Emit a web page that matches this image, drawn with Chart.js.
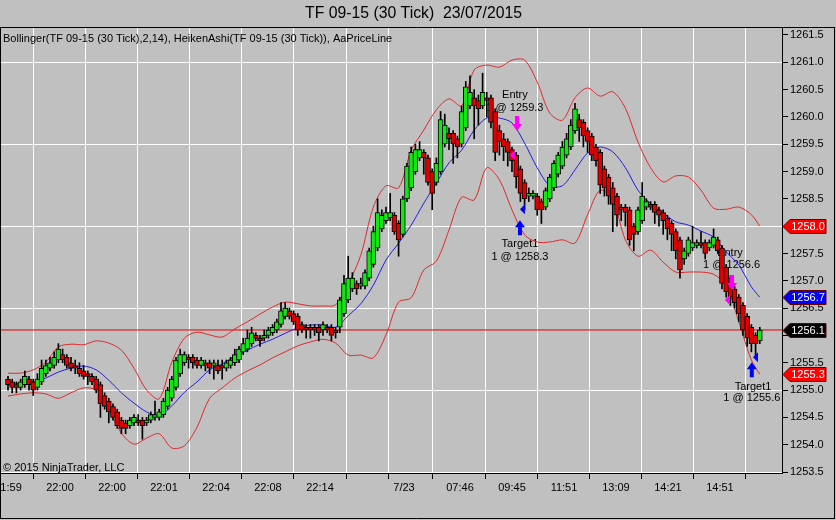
<!DOCTYPE html>
<html>
<head>
<meta charset="utf-8">
<script src="https://cdn.jsdelivr.net/npm/chart.js@4.4.1/dist/chart.umd.min.js"></script>
<style>
  html, body { margin: 0; padding: 0; background: #c0c0c0; }
  #wrap { width: 836px; height: 520px; }
</style>
</head>
<body>
<div id="wrap"><canvas id="chart" width="836" height="520"></canvas></div>
<script>
// Heiken Ashi bars (30 tick)
const haOpen = [
  1255.20,1255.15,1255.10,1255.05,1255.10,1255.20,1255.15,1255.05,1255.15,1255.30,
  1255.40,1255.45,1255.55,1255.65,1255.60,1255.50,1255.45,1255.40,1255.35,1255.30,
  1255.25,1255.20,1255.10,1254.90,1254.80,1254.70,1254.60,1254.45,1254.40,1254.35,
  1254.40,1254.45,1254.45,1254.40,1254.45,1254.50,1254.50,1254.55,1254.70,1254.85,
  1255.05,1255.30,1255.50,1255.60,1255.60,1255.55,1255.45,1255.50,1255.50,1255.45,
  1255.45,1255.45,1255.40,1255.45,1255.50,1255.55,1255.70,1255.75,1255.85,1256.00,
  1255.95,1255.95,1256.00,1256.05,1256.10,1256.20,1256.35,1256.45,1256.40,1256.35,
  1256.20,1256.15,1256.15,1256.15,1256.15,1256.10,1256.15,1256.15,1256.10,1256.15,
  1256.40,1256.65,1256.85,1256.95,1256.90,1256.90,1257.05,1257.30,1257.60,1257.95,
  1258.10,1258.15,1258.20,1258.05,1257.85,1258.50,1258.70,1259.00,1259.25,1259.35,
  1259.25,1259.00,1258.80,1259.00,1259.50,1259.70,1259.70,1259.60,1259.50,1259.80,
  1260.20,1260.35,1260.30,1260.20,1260.35,1260.35,1260.10,1259.75,1259.60,1259.55,
  1259.40,1259.30,1259.05,1258.80,1258.55,1258.55,1258.55,1258.45,1258.35,1258.50,
  1258.70,1258.95,1259.10,1259.30,1259.45,1259.75,1259.95,1259.90,1259.75,1259.65,
  1259.45,1259.35,1259.05,1258.90,1258.70,1258.55,1258.35,1258.35,1258.30,1258.00,
  1257.90,1258.10,1258.35,1258.40,1258.40,1258.30,1258.25,1258.15,1258.05,1257.90,
  1257.75,1257.40,1257.50,1257.60,1257.65,1257.70,1257.70,1257.60,1257.65,1257.75,
  1257.60,1257.25,1257.05,1256.85,1256.70,1256.55,1256.35,1256.15,1256.00,1255.90
];
const haClose = [
  1255.10,1255.05,1255.05,1255.15,1255.25,1255.10,1255.00,1255.20,1255.40,1255.45,
  1255.50,1255.60,1255.75,1255.55,1255.45,1255.40,1255.40,1255.30,1255.25,1255.25,
  1255.15,1255.00,1254.75,1254.70,1254.60,1254.50,1254.35,1254.30,1254.30,1254.45,
  1254.50,1254.40,1254.35,1254.45,1254.55,1254.55,1254.60,1254.80,1255.00,1255.20,
  1255.55,1255.65,1255.65,1255.55,1255.50,1255.45,1255.55,1255.45,1255.40,1255.50,
  1255.35,1255.40,1255.50,1255.55,1255.65,1255.75,1255.85,1255.95,1256.05,1255.95,
  1255.90,1256.00,1256.10,1256.15,1256.25,1256.45,1256.50,1256.35,1256.25,1256.10,
  1256.10,1256.10,1256.10,1256.10,1256.05,1256.20,1256.10,1256.00,1256.05,1256.65,
  1256.95,1257.05,1257.05,1256.85,1256.95,1257.15,1257.55,1257.90,1258.25,1258.20,
  1258.25,1258.25,1257.90,1257.75,1258.50,1259.10,1259.35,1259.40,1259.40,1259.25,
  1258.80,1258.60,1259.15,1259.95,1259.85,1259.60,1259.50,1259.45,1260.10,1260.55,
  1260.45,1260.20,1260.15,1260.45,1260.30,1259.90,1259.35,1259.55,1259.45,1259.35,
  1259.20,1258.90,1258.60,1258.50,1258.60,1258.60,1258.30,1258.30,1258.65,1258.90,
  1259.15,1259.30,1259.45,1259.60,1259.85,1260.15,1259.80,1259.65,1259.55,1259.30,
  1259.20,1258.75,1258.70,1258.55,1258.40,1258.20,1258.30,1258.25,1257.75,1257.85,
  1258.30,1258.55,1258.45,1258.35,1258.25,1258.20,1258.10,1257.95,1257.85,1257.55,
  1257.20,1257.55,1257.75,1257.70,1257.70,1257.65,1257.50,1257.70,1257.80,1257.55,
  1256.95,1256.80,1256.70,1256.60,1256.40,1256.10,1255.95,1255.85,1255.85,1256.10
];
const haHigh = [
  1255.25,1255.20,1255.15,1255.20,1255.35,1255.25,1255.20,1255.30,1255.55,1255.55,
  1255.60,1255.70,1255.85,1255.75,1255.65,1255.60,1255.55,1255.50,1255.45,1255.35,
  1255.30,1255.25,1255.15,1254.95,1254.85,1254.75,1254.65,1254.50,1254.45,1254.50,
  1254.55,1254.55,1254.50,1254.50,1254.60,1254.80,1254.65,1254.85,1255.05,1255.25,
  1255.60,1255.75,1255.70,1255.65,1255.65,1255.60,1255.60,1255.55,1255.55,1255.55,
  1255.55,1255.55,1255.55,1255.60,1255.75,1255.80,1255.95,1256.10,1256.15,1256.05,
  1256.00,1256.10,1256.15,1256.20,1256.30,1256.60,1256.60,1256.50,1256.45,1256.40,
  1256.25,1256.20,1256.20,1256.20,1256.20,1256.25,1256.20,1256.20,1256.15,1256.70,
  1257.10,1257.45,1257.15,1257.00,1257.05,1257.20,1257.60,1258.00,1258.50,1258.30,
  1258.35,1258.60,1258.25,1258.10,1258.55,1259.15,1259.45,1259.50,1259.55,1259.40,
  1259.30,1259.05,1259.25,1260.10,1260.05,1259.80,1259.75,1259.65,1260.20,1260.65,
  1260.75,1260.50,1260.40,1260.80,1260.45,1260.40,1260.15,1259.85,1259.70,1259.60,
  1259.45,1259.35,1259.10,1258.85,1258.70,1258.65,1258.60,1258.50,1258.70,1258.95,
  1259.20,1259.35,1259.55,1259.70,1259.95,1260.25,1260.05,1259.95,1259.80,1259.70,
  1259.50,1259.40,1259.10,1258.95,1258.80,1258.60,1258.40,1258.40,1258.35,1258.05,
  1258.35,1258.80,1258.50,1258.45,1258.45,1258.35,1258.30,1258.20,1258.10,1257.95,
  1257.80,1257.60,1257.80,1258.00,1257.75,1257.90,1257.75,1257.75,1257.95,1257.80,
  1257.65,1257.30,1257.10,1256.90,1256.75,1256.60,1256.40,1256.20,1256.05,1256.15
];
const haLow = [
  1255.00,1254.95,1254.95,1255.00,1255.05,1255.00,1254.90,1255.00,1255.10,1255.25,
  1255.35,1255.40,1255.50,1255.50,1255.40,1255.35,1255.30,1255.25,1255.20,1255.10,
  1255.10,1254.95,1254.50,1254.65,1254.40,1254.45,1254.30,1254.20,1254.20,1254.30,
  1254.35,1254.35,1254.10,1254.35,1254.40,1254.45,1254.45,1254.50,1254.65,1254.80,
  1255.00,1255.25,1255.45,1255.40,1255.40,1255.40,1255.40,1255.35,1255.30,1255.20,
  1255.30,1255.20,1255.35,1255.40,1255.45,1255.50,1255.65,1255.70,1255.80,1255.90,
  1255.80,1255.90,1255.95,1256.00,1256.05,1256.15,1256.30,1256.30,1256.20,1256.00,
  1256.05,1255.95,1255.95,1256.00,1255.90,1256.00,1256.05,1255.90,1255.95,1256.05,
  1256.35,1256.60,1256.80,1256.75,1256.85,1256.85,1257.00,1257.25,1257.55,1257.90,
  1258.05,1258.10,1257.85,1257.45,1257.80,1258.45,1258.65,1258.95,1259.20,1258.95,
  1258.75,1258.30,1258.75,1258.95,1259.45,1259.40,1259.15,1259.25,1259.45,1259.75,
  1260.15,1259.60,1259.85,1260.15,1260.00,1259.80,1259.20,1259.30,1259.20,1259.10,
  1259.00,1258.70,1258.45,1258.30,1258.45,1258.50,1258.20,1258.05,1258.30,1258.45,
  1258.65,1258.90,1259.05,1259.25,1259.40,1259.70,1259.55,1259.45,1259.35,1259.20,
  1259.10,1258.60,1258.55,1258.40,1257.90,1258.00,1258.10,1258.00,1257.65,1257.55,
  1257.85,1258.05,1258.30,1258.30,1258.05,1258.00,1257.85,1257.75,1257.55,1257.40,
  1257.05,1257.30,1257.45,1257.55,1257.60,1257.60,1257.40,1257.55,1257.60,1257.50,
  1256.85,1256.70,1256.55,1256.50,1256.25,1256.00,1255.80,1255.70,1255.60,1255.85
];

// Bollinger(2,14), read every third bar
const bandBars = [0,3,6,9,12,15,18,21,24,27,30,33,36,39,42,45,48,51,54,57,60,63,66,69,72,75,78,81,84,87,
  90,93,96,99,102,105,108,111,114,117,120,123,126,129,132,135,138,141,144,147,150,153,156,159,162,165,168,171,174,177,179];
const upperBand = [
  1255.31,1255.31,1255.37,1255.51,1255.79,1255.84,1255.83,1255.90,1255.86,1255.73,
  1255.40,1255.00,1254.84,1255.51,1255.95,1256.06,1256.01,1255.97,1256.12,1256.25,
  1256.39,1256.52,1256.61,1256.58,1256.54,1256.54,1256.56,1256.94,1257.47,1258.35,
  1258.74,1258.70,1259.39,1259.76,1260.13,1260.33,1260.20,1260.86,1260.95,1260.91,
  1261.04,1261.04,1260.64,1260.07,1259.94,1260.35,1260.53,1260.38,1260.46,1260.16,
  1259.54,1259.07,1258.81,1258.92,1258.90,1258.66,1258.33,1258.31,1258.35,1258.21,
  1258.00
];
const middleBand = [
  1255.09,1255.13,1255.15,1255.22,1255.33,1255.40,1255.44,1255.37,1255.18,1254.95,
  1254.76,1254.60,1254.53,1254.71,1254.96,1255.15,1255.37,1255.48,1255.62,1255.73,
  1255.84,1255.93,1256.04,1256.14,1256.19,1256.19,1256.15,1256.36,1256.58,1256.92,
  1257.38,1257.69,1258.02,1258.42,1258.79,1259.16,1259.39,1259.76,1259.98,1259.98,
  1259.89,1259.52,1259.07,1258.74,1258.74,1259.03,1259.34,1259.45,1259.36,1259.07,
  1258.66,1258.41,1258.24,1258.08,1258.02,1257.91,1257.80,1257.53,1257.29,1256.89,
  1256.70
];
const lowerBand = [
  1254.89,1254.93,1254.95,1254.93,1254.85,1254.95,1255.04,1255.00,1254.64,1254.21,
  1254.01,1254.12,1254.20,1253.94,1253.98,1254.32,1254.85,1255.04,1255.22,1255.35,
  1255.46,1255.59,1255.70,1255.81,1255.88,1255.93,1255.86,1255.64,1255.64,1255.59,
  1256.01,1256.61,1256.69,1257.20,1257.36,1257.93,1258.53,1258.48,1259.07,1258.85,
  1258.30,1257.84,1257.71,1257.71,1257.75,1257.69,1258.21,1258.66,1258.48,1257.75,
  1257.45,1257.56,1257.34,1257.16,1257.16,1257.16,1257.12,1256.92,1256.25,1255.55,
  1255.29
];

const lastPrice = 1256.1;
const tagValues = [1258.0, 1256.7, 1256.1, 1255.3];

// axes
const xTickBars = [0, 12.38, 24.76, 37.14, 49.52, 61.9, 74.29, 86.67, 94.29, 107.62, 120, 132.38, 144.76, 157.14, 169.52];
const xTickLabels = ["21:59","22:00","22:00","22:01","22:04","22:08","22:14","","7/23","07:46","09:45","11:51","13:09","14:21","14:51"];
const yTicks = [1253.5,1254.0,1254.5,1255.0,1255.5,1256.0,1256.5,1257.0,1257.5,1258.0,1258.5,1259.0,1259.5,1260.0,1260.5,1261.0,1261.5];

// trade markers and their texts
const noteText = ["Entry", "1 @ 1259.3", "Target1", "1 @ 1258.3", "Entry", "1 @ 1256.6", "Target1", "1 @ 1255.6"];
const noteBar = [120.7, 120.7, 121.9, 121.9, 171.9, 172.3, 177.4, 177.1];
const notePrice = [1260.40, 1260.16, 1257.67, 1257.44, 1257.51, 1257.29, 1255.06, 1254.85];
const arrowBar = [121.2, 121.9, 172.4, 177.1];
const arrowPrice = [1259.74, 1258.11, 1256.83, 1255.51];
const arrowSide = ["sell", "buy", "sell", "buy"];
const fillBar = [120.2, 122.6, 171.4, 178.1];
const fillPrice = [1259.30, 1258.31, 1256.65, 1255.60];

const FONT = '"Liberation Sans", Arial, sans-serif';
const GREEN = "#14e614";
const RED = "#e00000";

const bodies = haOpen.map((o, i) => ({ x: i, y: [o, haClose[i]] }));
const wicks = haLow.map((l, i) => ({ x: i, y: [l, haHigh[i]] }));
const band = (vals) => bandBars.map((b, k) => ({ x: b, y: vals[k] }));

function sameStep(v) {
  const k = (v - 1253.5) / 1.5;
  return Math.abs(k - Math.round(k)) < 1e-6;
}

const decor = {
  id: "decor",
  beforeDatasetsDraw(chart) {
    const { ctx, scales: { x, y } } = chart;
    ctx.save();
    ctx.font = "11px " + FONT;
    ctx.fillStyle = "#000";
    ctx.textAlign = "center";
    ctx.textBaseline = "middle";
    noteText.forEach((t, i) => {
      ctx.fillText(t, x.getPixelForValue(noteBar[i]), y.getPixelForValue(notePrice[i]));
    });
    ctx.restore();
  },
  afterDatasetsDraw(chart) {
    const { ctx, scales: { x, y } } = chart;
    ctx.save();
    arrowSide.forEach((side, i) => {
      const px = x.getPixelForValue(arrowBar[i]);
      const py = y.getPixelForValue(arrowPrice[i]);
      const d = side === "sell" ? -1 : 1; // sell arrow points down, tip at py
      ctx.fillStyle = side === "sell" ? "#ff00ff" : "#0000ff";
      ctx.beginPath();
      ctx.moveTo(px, py);
      ctx.lineTo(px - 5, py + d * 7);
      ctx.lineTo(px - 2, py + d * 7);
      ctx.lineTo(px - 2, py + d * 15);
      ctx.lineTo(px + 2, py + d * 15);
      ctx.lineTo(px + 2, py + d * 7);
      ctx.lineTo(px + 5, py + d * 7);
      ctx.closePath();
      ctx.fill();
      // execution mark
      const fx = x.getPixelForValue(fillBar[i]);
      const fy = y.getPixelForValue(fillPrice[i]);
      ctx.beginPath();
      ctx.moveTo(fx - 3, fy);
      ctx.lineTo(fx + 2, fy - 5);
      ctx.lineTo(fx + 2, fy + 5);
      ctx.closePath();
      ctx.fill();
    });
    ctx.restore();
  },
  afterDraw(chart) {
    const { ctx, scales: { y } } = chart;
    ctx.save();
    // frame
    ctx.strokeStyle = "#000";
    ctx.lineWidth = 1;
    ctx.beginPath();
    ctx.moveTo(0, 27.5); ctx.lineTo(835, 27.5);
    ctx.moveTo(0.5, 27); ctx.lineTo(0.5, 519);
    ctx.moveTo(0, 518.5); ctx.lineTo(835, 518.5);
    ctx.moveTo(834.5, 27); ctx.lineTo(834.5, 519);
    ctx.stroke();

    ctx.fillStyle = "#000";
    ctx.textBaseline = "middle";
    ctx.textAlign = "left";
    ctx.font = "16px " + FONT;
    ctx.fillText("TF 09-15 (30 Tick)  23/07/2015", 305, 14, 217);
    ctx.font = "11px " + FONT;
    ctx.fillText("Bollinger(TF 09-15 (30 Tick),2,14), HeikenAshi(TF 09-15 (30 Tick)), AaPriceLine", 3, 39, 392);
    ctx.fillText("\u00a9 2015 NinjaTrader, LLC", 3, 468, 124);

    // price tags on the axis
    const tagFill = ["#ff0000", "#0000ff", "#000000", "#ff0000"];
    tagValues.forEach((v, i) => {
      const py = Math.round(y.getPixelForValue(v)) + 0.5;
      ctx.beginPath();
      ctx.moveTo(783, py);
      ctx.lineTo(790, py - 7);
      ctx.lineTo(826, py - 7);
      ctx.lineTo(826, py + 7);
      ctx.lineTo(790, py + 7);
      ctx.closePath();
      ctx.fillStyle = tagFill[i];
      ctx.fill();
      ctx.strokeStyle = "#600";
      ctx.stroke();
      ctx.fillStyle = "#fff";
      ctx.textAlign = "center";
      ctx.font = "11px " + FONT;
      ctx.fillText(v.toFixed(1), 808, py + 0.5);
    });
    ctx.restore();
  }
};

new Chart(document.getElementById("chart"), {
  type: "bar",
  data: {
    datasets: [
      { data: bodies, backgroundColor: bodies.map(b => b.y[1] >= b.y[0] ? GREEN : RED),
        borderColor: "#000", borderWidth: 1, borderSkipped: false, barThickness: 5, grouped: false, order: 0 },
      { data: wicks, backgroundColor: "#000", barThickness: 1, grouped: false, order: 1 },
      { type: "line", data: band(upperBand), borderColor: "#e02828", borderWidth: 1, pointRadius: 0, tension: 0.3, order: 2 },
      { type: "line", data: band(middleBand), borderColor: "#1e1ee0", borderWidth: 1, pointRadius: 0, tension: 0.3, order: 3 },
      { type: "line", data: band(lowerBand), borderColor: "#e02828", borderWidth: 1, pointRadius: 0, tension: 0.3, order: 4 },
      { type: "line", data: [{ x: -2, y: lastPrice }, { x: 186, y: lastPrice }], borderColor: "#e00000", borderWidth: 1, pointRadius: 0, order: 5 }
    ]
  },
  options: {
    responsive: false,
    devicePixelRatio: 1,
    animation: false,
    layout: { padding: { left: 1, top: 27, right: 0, bottom: 0 } },
    plugins: { legend: { display: false }, tooltip: { enabled: false }, title: { display: false } },
    scales: {
      x: {
        type: "linear", min: -1.667, max: 184.29, offset: false,
        grid: { color: "#ffffff", tickColor: "#000", tickLength: 6, lineWidth: 1 },
        border: { color: "#000", width: 1 },
        ticks: { color: "#000", font: { family: FONT, size: 11 }, autoSkip: false, maxRotation: 0, minRotation: 0, padding: 2,
          callback: (v, i) => xTickLabels[i] ?? "" },
        afterBuildTicks: (s) => { s.ticks = xTickBars.map(v => ({ value: v })); },
        afterFit: (s) => { s.height = 47; s.paddingLeft = 0; s.paddingRight = 0; }
      },
      y: {
        type: "linear", position: "right", min: 1253.482, max: 1261.646,
        grid: { color: (c) => (c.tick && sameStep(c.tick.value)) ? "#ffffff" : "rgba(0,0,0,0)", tickColor: "#000", tickLength: 6 },
        border: { color: "#000", width: 1 },
        ticks: { color: "#000", font: { family: FONT, size: 11 }, padding: 2, callback: (v) => Number(v).toFixed(1) },
        afterBuildTicks: (s) => { s.ticks = yTicks.map(v => ({ value: v })); },
        afterFit: (s) => { s.width = 54; s.paddingTop = 0; s.paddingBottom = 0; }
      }
    }
  },
  plugins: [decor]
});
</script>
</body>
</html>
